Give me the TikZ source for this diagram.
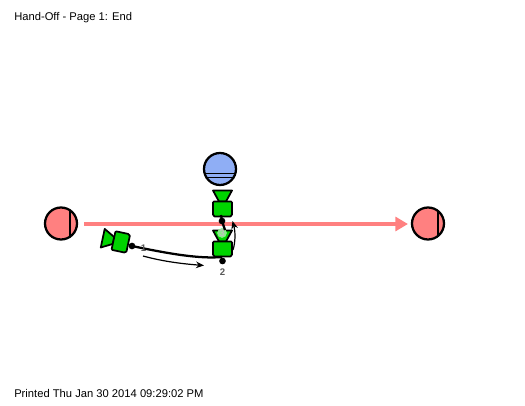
\documentclass[tikz,border=0pt]{standalone}
\usepackage{fontspec}
\setmainfont{Liberation Sans}
\usetikzlibrary{arrows.meta,positioning,calc}

\definecolor{salmon}{HTML}{FF8080}
\definecolor{activitygreen}{HTML}{00D400}
\definecolor{startblue}{HTML}{8FAEF5}

\tikzset{
  pagetext/.style={font=\fontsize{8.4pt}{10pt}\selectfont,anchor=west,inner sep=0pt},
  numtext/.style={font=\bfseries\fontsize{7.2pt}{8pt}\selectfont,text=black!65,inner sep=0pt},
  token/.style={circle,fill=black,inner sep=0pt,minimum size=5pt},
  flowline/.style={line width=1.7pt},
  moveline/.style={line width=0.9pt,-{Stealth[length=6pt,width=5pt]}},
  pics/station/.style={code={
    % funnel above, chamfered box below; origin is the neck
    \draw[fill=activitygreen,line width=1.3pt,line join=round]
      (-9.5,-11) -- (9.5,-11) -- (3.5,0) -- (-3.5,0) -- cycle;
    \draw[fill=activitygreen,line width=1.3pt,line join=round]
      (-8.5,0) -- (8.5,0) -- (9.5,1) -- (9.5,13) -- (8,15) -- (-8,15)
      -- (-9.5,13) -- (-9.5,1) -- cycle;
  }}
}

\begin{document}
\begin{tikzpicture}[x=0.75pt,y=-0.75pt,>=stealth]
  \useasboundingbox (0,0) rectangle (525,406);

  % ------- page captions -------
  \node[pagetext] (title) at (14,17.5) {Hand-Off - Page 1: End};
  \node[pagetext] (printed) at (14,393) {Printed Thu Jan 30 2014 09:29:02 PM};

  % ------- main red route -------
  \coordinate (routeA) at (84,224);
  \coordinate (routeB) at (408,224);
  \draw[salmon,line width=3pt,-{Triangle[length=9.5pt,width=10.5pt]}] (routeA) -- (routeB);

  % ---- end circles ----
  \draw[fill=salmon,line width=1.7pt] (61,223.5) circle (16);
  \draw[line width=1.5pt] (70,210.5) -- (70,236.5);
  \draw[fill=salmon,line width=1.7pt] (428,223.5) circle (16);
  \draw[line width=1.5pt] (438,211) -- (438,236);

  % ---- blue circle ----
  \begin{scope}
    \clip (220,169) circle (16);
    \fill[startblue] (220,169) circle (16);
    \draw[line width=1.4pt] (200,173.5) -- (240,173.5);
    \draw[line width=1.4pt] (200,177.5) -- (240,177.5);
  \end{scope}
  \draw[line width=1.7pt] (220,169) circle (16);

  % ---- stations ----
  \pic at (222.5,201.5) {station};
  \pic at (222.5,241.5) {station};
  \pic[rotate=78] at (113.5,240.5) {station};

  \node[numtext,text=white!75!black,circle,fill=activitygreen!45!white,inner sep=0.3pt] (three) at (222,233) {3};

  % ---- tokens and connectors ----
  \node[token] (dotA) at (222,221) {};
  \node[token] (dotB) at (132,246) {};
  \node[token] (dotC) at (222.5,261) {};
  \coordinate (topFoot) at (221,215);
  \coordinate (lowFunnel) at (225,230);
  \coordinate (lowFoot) at (222,257);
  \coordinate (sideFoot) at (129,245.5);

  \draw[flowline] (topFoot) -- (dotA.center) -- (lowFunnel);
  \draw[flowline] (lowFoot) .. controls (200,259) and (170,254) .. (dotB.center) -- (sideFoot);

  \node[numtext] (one) at (143.5,248) {1};
  \node[numtext] (two) at (222.5,272) {2};

  \coordinate (moveA) at (143,256);
  \coordinate (moveB) at (204,265.5);
  \coordinate (moveC) at (233,250);
  \coordinate (moveD) at (232.5,221);
  \draw[moveline] (moveA) .. controls (165,262) and (185,264) .. (moveB);
  \draw[moveline] (moveC) .. controls (236,240) and (235,230) .. (moveD);

\end{tikzpicture}
\end{document}
